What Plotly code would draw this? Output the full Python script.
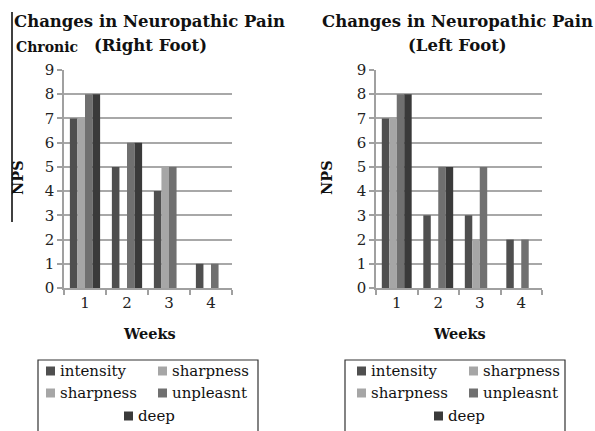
import plotly.graph_objects as go

W, H = 595, 431

weeks = ["1", "2", "3", "4"]
series_names = ["intensity", "sharpness", "sharpness", "unpleasnt", "deep"]
series_colors = ["#4f4f4f", "#a6a6a6", "#a6a6a6", "#707070", "#3a3a3a"]
series_groups = ["a", "b", "b", "c", "d"]

# Right foot (left panel)
right_intensity = [7, 5, 4, 1]
right_sharpness = [7, None, 5, None]
right_sharpness2 = [None, None, None, None]
right_unpleasnt = [8, 6, 5, 1]
right_deep = [8, 6, None, None]

# Left foot (right panel)
left_intensity = [7, 3, 3, 2]
left_sharpness = [7, None, 2, None]
left_sharpness2 = [None, None, None, None]
left_unpleasnt = [8, 5, 5, 2]
left_deep = [8, 5, None, None]

y_ticks = list(range(0, 10))

FONT = "DejaVu Serif"


def px(x):
    return x / W


def py(y):
    return 1 - y / H


fig = go.Figure()

panels = [
    ("x", "y", [right_intensity, right_sharpness, right_sharpness2, right_unpleasnt, right_deep]),
    ("x2", "y2", [left_intensity, left_sharpness, left_sharpness2, left_unpleasnt, left_deep]),
]
for xa, ya, data in panels:
    for name, color, grp, vals in zip(series_names, series_colors, series_groups, data):
        fig.add_trace(go.Bar(
            x=weeks, y=vals, name=name, xaxis=xa, yaxis=ya,
            marker=dict(color=color, line=dict(width=0)),
            offsetgroup=grp, showlegend=False,
        ))

axis_common_y = dict(
    range=[0, 9], tickvals=y_ticks, showgrid=True, gridcolor="#a8a8a8", gridwidth=1.5,
    showline=True, linecolor="#a0a0a0", linewidth=1.5, ticks="outside", ticklen=5,
    tickcolor="#a0a0a0", tickwidth=1.5, zeroline=False, automargin=False,
    tickfont=dict(family=FONT, size=15, color="#222"), fixedrange=True,
)
axis_common_x = dict(
    type="category", showgrid=False, showline=True, linecolor="#a0a0a0", linewidth=1.5,
    ticks="outside", tickson="boundaries", ticklen=5, tickcolor="#a0a0a0", tickwidth=1.5,
    automargin=False,
    tickfont=dict(family=FONT, size=15, color="#222"), fixedrange=True,
)

y0, y1 = py(288), py(70)
fig.update_layout(
    width=W, height=H, margin=dict(l=0, r=0, t=0, b=0, autoexpand=False),
    paper_bgcolor="white", plot_bgcolor="white",
    barmode="group", bargap=0.28, bargroupgap=0,
    xaxis=dict(domain=[px(64), px(232)], anchor="y", **axis_common_x),
    yaxis=dict(domain=[y0, y1], anchor="x", **axis_common_y),
    xaxis2=dict(domain=[px(376), px(542)], anchor="y2", **axis_common_x),
    yaxis2=dict(domain=[y0, y1], anchor="x2", **axis_common_y),
    font=dict(family=FONT, color="#111"),
)

ann = []
shapes = []

# Titles
ann.append(dict(x=px(149), y=py(21), text="<b>Changes in Neuropathic Pain</b>",
                font=dict(family=FONT, size=16.5, color="#111"), xanchor="center", yanchor="middle"))
ann.append(dict(x=px(14), y=py(47), text="<b>Chronic</b>",
                font=dict(family=FONT, size=14, color="#111"), xanchor="left", yanchor="middle"))
ann.append(dict(x=px(150), y=py(46), text="<b>(Right Foot)</b>",
                font=dict(family=FONT, size=16.5, color="#111"), xanchor="center", yanchor="middle"))
ann.append(dict(x=px(457), y=py(21), text="<b>Changes in Neuropathic Pain</b>",
                font=dict(family=FONT, size=16.5, color="#111"), xanchor="center", yanchor="middle"))
ann.append(dict(x=px(457), y=py(46), text="<b>(Left Foot)</b>",
                font=dict(family=FONT, size=16.5, color="#111"), xanchor="center", yanchor="middle"))

# Axis titles
for xc in (149, 459):
    ann.append(dict(x=px(xc), y=py(333), text="<b>Weeks</b>",
                    font=dict(family=FONT, size=14.5, color="#111"),
                    xanchor="center", yanchor="middle"))
for xc in (17, 326):
    ann.append(dict(x=px(xc), y=py(178), text="<b>NPS</b>",
                    font=dict(family=FONT, size=14.5, color="#111"),
                    textangle=-90, xanchor="center", yanchor="middle"))

# Left border line
shapes.append(dict(type="line", xref="paper", yref="paper", x0=px(12), x1=px(12),
                   y0=py(12), y1=py(222), line=dict(color="#000", width=1.5)))

# Legend boxes
for (bx0, bx1, c1, c2, c3) in [(38, 258, 46, 158, 124), (345, 565, 357, 469, 434)]:
    shapes.append(dict(type="rect", xref="paper", yref="paper", x0=px(bx0), x1=px(bx1),
                       y0=py(445), y1=py(360), line=dict(color="#333", width=1.2),
                       fillcolor="rgba(0,0,0,0)"))
    slots = [(c1, 371), (c2, 371), (c1, 393), (c2, 393), (c3, 416)]
    for (sx, sy), name, color in zip(slots, series_names, series_colors):
        shapes.append(dict(type="rect", xref="paper", yref="paper",
                           x0=px(sx), x1=px(sx + 9), y0=py(sy + 4.5), y1=py(sy - 4.5),
                           fillcolor=color, line=dict(width=0)))
        ann.append(dict(x=px(sx + 12), y=py(sy), text=name,
                        font=dict(family=FONT, size=15, color="#111"),
                        xanchor="left", yanchor="middle"))

for a in ann:
    a.setdefault("xref", "paper")
    a.setdefault("yref", "paper")
    a["showarrow"] = False
fig.update_layout(annotations=ann, shapes=shapes)

fig.write_html(
    "out.html",
    config={"displayModeBar": False},
    post_script="document.body.style.margin='0';document.body.style.overflow='hidden';",
)
